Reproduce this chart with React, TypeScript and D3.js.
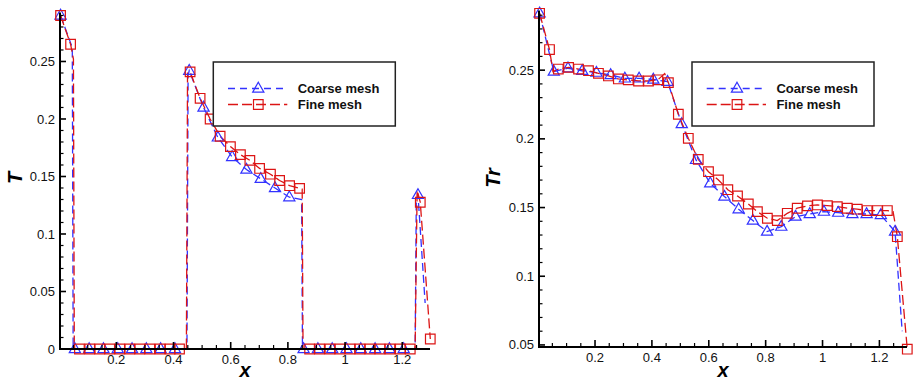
import React from "react";
import * as d3 from "d3";

type Pt = [number, number];

// Axis tick labels
const xTickValues = [0.2, 0.4, 0.6, 0.8, 1, 1.2];
const tTickValues = [0, 0.05, 0.1, 0.15, 0.2, 0.25];
const trTickValues = [0.05, 0.1, 0.15, 0.2, 0.25];
const seriesNames = ["Coarse mesh", "Fine mesh"];

// ---- T profile ----
// coarse mesh, marked points
const coarseT: Pt[] = [
  [0.005, 0.29],
  [0.055, 0], [0.105, 0], [0.155, 0], [0.205, 0], [0.255, 0], [0.305, 0], [0.355, 0], [0.405, 0],
  [0.455, 0.242], [0.505, 0.21], [0.555, 0.184], [0.605, 0.167], [0.655, 0.156], [0.705, 0.148], [0.755, 0.14], [0.805, 0.132],
  [0.855, 0], [0.905, 0], [0.955, 0], [1.005, 0], [1.055, 0], [1.105, 0], [1.155, 0], [1.205, 0],
  [1.255, 0.134],
];
// coarse mesh, intermediate (unmarked) points
const coarseTMid: Pt[] = [
  [0.046, 0.262], [0.049, 0], [0.447, 0], [0.451, 0.238], [0.848, 0.13], [0.851, 0],
  [1.245, 0], [1.249, 0.128], [1.28, 0.04],
];
// fine mesh, marked points
const fineT: Pt[] = [
  [0.005, 0.29], [0.04, 0.265],
  [0.071, 0], [0.107, 0], [0.142, 0], [0.177, 0], [0.212, 0], [0.247, 0], [0.282, 0], [0.317, 0], [0.353, 0], [0.388, 0], [0.421, 0],
  [0.458, 0.241], [0.493, 0.218], [0.528, 0.2], [0.563, 0.185], [0.599, 0.176], [0.634, 0.169], [0.667, 0.164], [0.701, 0.157],
  [0.739, 0.152], [0.771, 0.1465], [0.806, 0.142], [0.841, 0.1397],
  [0.876, 0], [0.911, 0], [0.947, 0], [0.982, 0], [1.017, 0], [1.052, 0], [1.087, 0], [1.122, 0], [1.157, 0], [1.193, 0], [1.228, 0],
  [1.263, 0.1276], [1.298, 0.0087],
];
// fine mesh, intermediate (unmarked) points
const fineTMid: Pt[] = [
  [0.05, 0.252], [0.053, 0], [0.445, 0], [0.449, 0.24], [0.85, 0.139], [0.853, 0], [1.245, 0], [1.252, 0.138],
];

// ---- Tr profile ----
const coarseTr: Pt[] = [
  [0.005, 0.2914], [0.055, 0.249], [0.105, 0.2514], [0.155, 0.2495], [0.205, 0.2482], [0.255, 0.2465], [0.305, 0.244],
  [0.355, 0.244], [0.405, 0.2432], [0.455, 0.2416], [0.505, 0.2108], [0.555, 0.1847], [0.605, 0.1677], [0.655, 0.158],
  [0.705, 0.1488], [0.755, 0.1405], [0.805, 0.1325], [0.855, 0.1361], [0.905, 0.1434], [0.955, 0.1453], [1.005, 0.147],
  [1.055, 0.1463], [1.105, 0.1453], [1.155, 0.1453], [1.205, 0.1446], [1.255, 0.1325],
];
const coarseTrMid: Pt[] = [[1.28, 0.06]];
const fineTr: Pt[] = [
  [0.005, 0.2914], [0.04, 0.265], [0.071, 0.2508], [0.107, 0.252], [0.142, 0.2508], [0.177, 0.2496], [0.212, 0.2477],
  [0.247, 0.2458], [0.282, 0.2436], [0.317, 0.2429], [0.353, 0.2421], [0.388, 0.2421], [0.421, 0.243], [0.458, 0.2409],
  [0.493, 0.2179], [0.528, 0.2004], [0.563, 0.1851], [0.599, 0.1761], [0.634, 0.1701], [0.667, 0.163], [0.701, 0.1584],
  [0.739, 0.1526], [0.771, 0.147], [0.806, 0.1422], [0.841, 0.1405], [0.876, 0.1458], [0.911, 0.1495], [0.947, 0.1512],
  [0.982, 0.1519], [1.017, 0.1514], [1.052, 0.1507], [1.087, 0.1495], [1.122, 0.1488], [1.157, 0.1478], [1.193, 0.1478],
  [1.228, 0.1478], [1.263, 0.1288], [1.298, 0.0469],
];
const fineTrMid: Pt[] = [[0.052, 0.249], [0.445, 0.2475], [1.248, 0.147]];

const X_DOMAIN: [number, number] = [0.003, 1.297];
const BLUE = "#3232ff";
const RED = "#dc1414";
const FONT = "'Liberation Sans', Arial, Helvetica, sans-serif";

const trianglePath = "M0,-6.2L5.6,3.6L-5.6,3.6Z";
const squarePath = "M-4.8,-4.8H4.8V4.8H-4.8Z";

function merge(a: Pt[], b: Pt[]): Pt[] {
  return [...a, ...b].sort((p, q) => p[0] - q[0]);
}

function steps(lo: number, hi: number, step: number): number[] {
  const out: number[] = [];
  const n0 = Math.ceil(lo / step - 1e-9);
  const n1 = Math.floor(hi / step + 1e-9);
  for (let i = n0; i <= n1; i++) out.push(+(i * step).toFixed(6));
  return out;
}

type PanelProps = {
  x0: number;
  x1: number;
  y0: number;
  y1: number;
  yDomain: [number, number];
  yTicks: number[];
  yLabel: string;
  yLabelX: number;
  coarse: Pt[];
  coarseMid: Pt[];
  fine: Pt[];
  fineMid: Pt[];
  legendX: number;
};

function Panel(p: PanelProps) {
  const x = d3.scaleLinear().domain(X_DOMAIN).range([p.x0, p.x1]);
  const y = d3.scaleLinear().domain(p.yDomain).range([p.y0, p.y1]);
  const line = d3
    .line<Pt>()
    .x((d) => x(d[0]))
    .y((d) => y(d[1]));

  const isMajor = (v: number, majors: number[]) => majors.some((m) => Math.abs(m - v) < 1e-6);
  const xMinor = steps(X_DOMAIN[0], X_DOMAIN[1], 0.05).filter((v) => !isMajor(v, xTickValues));
  const yMinor = steps(p.yDomain[0], p.yDomain[1], 0.01).filter((v) => !isMajor(v, p.yTicks));

  const coarseLine = merge(p.coarse, p.coarseMid);
  const fineLine = merge(p.fine, p.fineMid);

  const lx = p.legendX;
  const ly = 62;
  const rows = [
    { name: seriesNames[0], color: BLUE, dash: "7,5", marker: trianglePath, cy: 88.5 },
    { name: seriesNames[1], color: RED, dash: "10,4", marker: squarePath, cy: 104.5 },
  ];

  return (
    <g>
      {/* data lines */}
      <path d={line(coarseLine) || ""} fill="none" stroke={BLUE} strokeWidth={1.3} strokeDasharray="8,4" />
      <path d={line(fineLine) || ""} fill="none" stroke={RED} strokeWidth={1.3} strokeDasharray="10,4" />
      {p.coarse.map((d, i) => (
        <path key={"c" + i} d={trianglePath} transform={`translate(${x(d[0])},${y(d[1])})`} fill="none" stroke={BLUE} strokeWidth={1.2} />
      ))}
      {p.fine.map((d, i) => (
        <path key={"f" + i} d={squarePath} transform={`translate(${x(d[0])},${y(d[1])})`} fill="none" stroke={RED} strokeWidth={1.2} />
      ))}

      {/* axes */}
      <line x1={p.x0} x2={p.x1} y1={p.y0} y2={p.y0} stroke="#000" strokeWidth={2} />
      <line x1={p.x0} x2={p.x0} y1={p.y0 + 1} y2={p.y1} stroke="#000" strokeWidth={2} />
      {xTickValues.map((v) => (
        <g key={"xt" + v}>
          <line x1={x(v)} x2={x(v)} y1={p.y0} y2={p.y0 - 7} stroke="#000" strokeWidth={1.6} />
          <text x={x(v)} y={p.y0 + 15} textAnchor="middle" fontFamily={FONT} fontSize={13} fill="#111">
            {String(v)}
          </text>
        </g>
      ))}
      {xMinor.map((v) => (
        <line key={"xm" + v} x1={x(v)} x2={x(v)} y1={p.y0} y2={p.y0 - 4} stroke="#000" strokeWidth={1.2} />
      ))}
      {p.yTicks.map((v) => (
        <g key={"yt" + v}>
          <line x1={p.x0} x2={p.x0 + 6} y1={y(v)} y2={y(v)} stroke="#000" strokeWidth={1.6} />
          <text x={p.x0 - 5} y={y(v)} dy="0.35em" textAnchor="end" fontFamily={FONT} fontSize={13} fill="#111">
            {String(v)}
          </text>
        </g>
      ))}
      {yMinor.map((v) => (
        <line key={"ym" + v} x1={p.x0} x2={p.x0 + 3.5} y1={y(v)} y2={y(v)} stroke="#000" strokeWidth={1.2} />
      ))}

      {/* axis titles */}
      <text
        transform={`translate(${p.yLabelX},178) rotate(-90)`}
        textAnchor="middle"
        fontFamily={FONT}
        fontSize={20}
        fontWeight="bold"
        fontStyle="italic"
      >
        {p.yLabel}
      </text>
      <text x={(p.x0 + p.x1) / 2} y={377} textAnchor="middle" fontFamily={FONT} fontSize={20} fontWeight="bold" fontStyle="italic">
        x
      </text>

      {/* legend */}
      <rect x={lx} y={ly} width={182} height={64} fill="#fff" stroke="#222" strokeWidth={1.5} />
      {rows.map((r) => (
        <g key={r.name}>
          <line x1={lx + 14.7} x2={lx + 74} y1={r.cy} y2={r.cy} stroke={r.color} strokeWidth={1.3} strokeDasharray={r.dash} />
          <path d={r.marker} transform={`translate(${lx + 45},${r.cy})`} fill="none" stroke={r.color} strokeWidth={1.2} />
          <text x={lx + 84.4} y={r.cy} dy="0.35em" fontFamily={FONT} fontSize={13} fontWeight="bold" fill="#111">
            {r.name}
          </text>
        </g>
      ))}
    </g>
  );
}

export default function App() {
  return (
    <svg width={916} height={380} style={{ position: "absolute", left: 0, top: 0, background: "#fff" }}>
      <rect width={916} height={380} fill="#fff" />
      <Panel
        x0={60}
        x1={430}
        y0={349}
        y1={12.6}
        yDomain={[0, 0.2925]}
        yTicks={tTickValues}
        yLabel="T"
        yLabelX={22}
        coarse={coarseT}
        coarseMid={coarseTMid}
        fine={fineT}
        fineMid={fineTMid}
        legendX={213.3}
      />
      <Panel
        x0={539}
        x1={907}
        y0={347}
        y1={10.4}
        yDomain={[0.0485, 0.2935]}
        yTicks={trTickValues}
        yLabel="Tr"
        yLabelX={500}
        coarse={coarseTr}
        coarseMid={coarseTrMid}
        fine={fineTr}
        fineMid={fineTrMid}
        legendX={692}
      />
    </svg>
  );
}
